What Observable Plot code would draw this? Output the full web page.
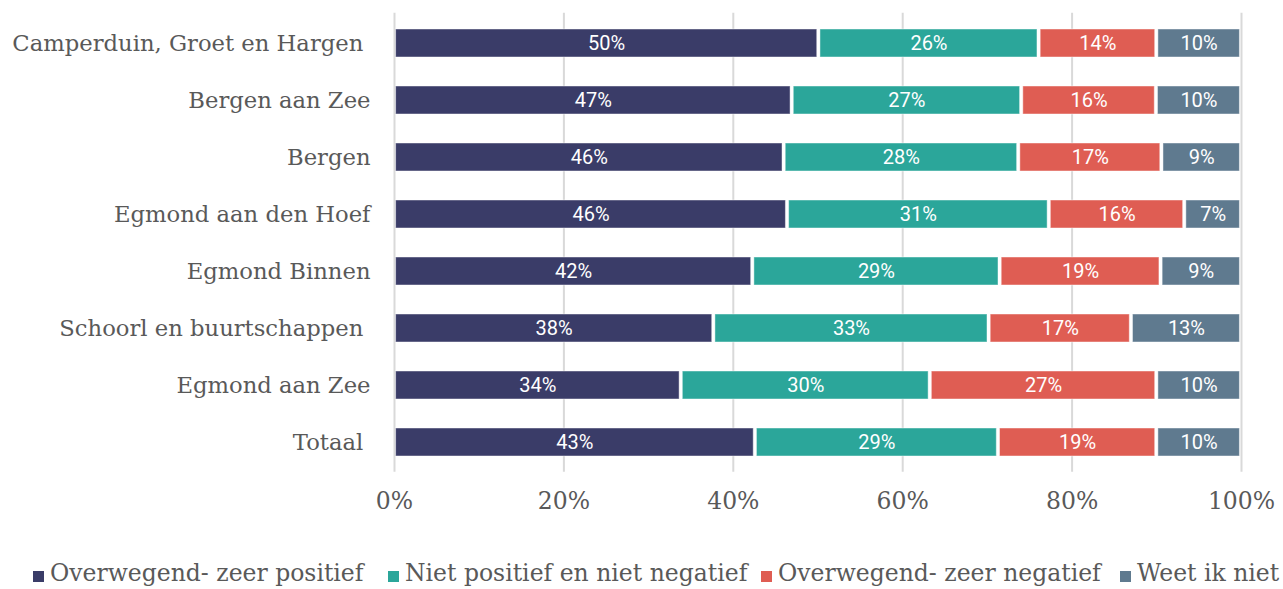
<!DOCTYPE html>
<html>
<head>
<meta charset="utf-8">
<script src="https://cdn.jsdelivr.net/npm/d3@7"></script>
<script src="https://cdn.jsdelivr.net/npm/@observablehq/plot@0.6"></script>
<style>
  html, body { margin: 0; padding: 0; background: #fff; overflow: hidden; }
  #chart svg { display: block; }
  #chart svg text { white-space: pre; }
  #legend { position: relative; height: 30px; margin-top: 28px;
    font-family: "DejaVu Serif", serif; font-size: 23.5px; color: #595959; line-height: 30px; white-space: nowrap; }
  #legend .item { position: absolute; top: 0; display: flex; align-items: center; }
  #legend .sw { width: 11px; height: 11px; margin-right: 6px; margin-top: 7px; }
</style>
</head>
<body>
<div id="chart"></div>
<div id="legend"></div>
<script>
const categories = [
  "Camperduin, Groet en Hargen ",
  "Bergen aan Zee",
  "Bergen",
  "Egmond aan den Hoef",
  "Egmond Binnen",
  "Schoorl en buurtschappen ",
  "Egmond aan Zee",
  "Totaal "
];
const seriesNames = [
  "Overwegend- zeer positief",
  "Niet positief en niet negatief",
  "Overwegend- zeer negatief",
  "Weet ik niet"
];
const colors = ["#3a3c68", "#2ba69a", "#df5d53", "#5f7a8f"];

// measured values (percent)
const positief = [50.1, 46.95, 46.0, 46.4, 42.3, 37.7, 33.85, 42.6];
const neutraal = [26.0, 27.1, 27.7, 30.9, 29.2, 32.5, 29.4, 28.7];
const negatief = [13.9, 15.9, 16.9, 16.0, 19.0, 16.8, 26.75, 18.7];
const weetNiet = [10.0, 10.05, 9.4, 6.7, 9.5, 13.0, 10.0, 10.0];

// printed labels
const positiefLabels = ["50%", "47%", "46%", "46%", "42%", "38%", "34%", "43%"];
const neutraalLabels = ["26%", "27%", "28%", "31%", "29%", "33%", "30%", "29%"];
const negatiefLabels = ["14%", "16%", "17%", "16%", "19%", "17%", "27%", "19%"];
const weetNietLabels = ["10%", "10%", "9%", "7%", "9%", "13%", "10%", "10%"];

const xTicks = [0, 20, 40, 60, 80, 100];
const legendLeft = [33, 388, 761, 1120];

const seriesValues = [positief, neutraal, negatief, weetNiet];
const seriesLabels = [positiefLabels, neutraalLabels, negatiefLabels, weetNietLabels];

const data = [];
categories.forEach((cat, i) => {
  seriesNames.forEach((s, j) => {
    data.push({cat, series: s, value: seriesValues[j][i], label: seriesLabels[j][i]});
  });
});

const height = 530;
const plot = Plot.plot({
  width: 1283,
  height,
  marginLeft: 394,
  marginRight: 42,
  marginTop: 12.7,
  marginBottom: height - 471.7,
  style: {fontFamily: "DejaVu Serif", fontSize: "20px", color: "#595959", background: "#fff"},
  x: {domain: [0, 100], ticks: xTicks, tickFormat: d => d + "%"},
  y: {domain: categories, paddingInner: 0.51, paddingOuter: 0.255, label: null},
  color: {domain: seriesNames, range: colors},
  marks: [
    Plot.ruleX(xTicks, {stroke: "#d9d9d9", strokeWidth: 2}),
    Plot.barX(data, Plot.stackX({x: "value", y: "cat", fill: "series", insetLeft: 1.6, insetRight: 1.6,
      stroke: "white", strokeOpacity: 0.45, strokeWidth: 1})),
    Plot.text(data, Plot.stackX({x: "value", y: "cat", text: "label", fill: "white",
      fontFamily: "Roboto", fontSize: 20})),
    Plot.axisX({ticks: xTicks, tickFormat: d => d + "%", tickSize: 0, tickPadding: 20, label: null,
      fontFamily: "DejaVu Serif", fontSize: 23.5}),
    Plot.axisY({tickSize: 0, tickPadding: 24, label: null, fontFamily: "DejaVu Serif", fontSize: 22.7})
  ]
});
document.getElementById("chart").appendChild(plot);

const legend = document.getElementById("legend");
seriesNames.forEach((s, j) => {
  const item = document.createElement("div");
  item.className = "item";
  item.style.left = legendLeft[j] + "px";
  const sw = document.createElement("span");
  sw.className = "sw";
  sw.style.background = colors[j];
  const t = document.createElement("span");
  t.textContent = s;
  item.appendChild(sw);
  item.appendChild(t);
  legend.appendChild(item);
});
</script>
</body>
</html>
